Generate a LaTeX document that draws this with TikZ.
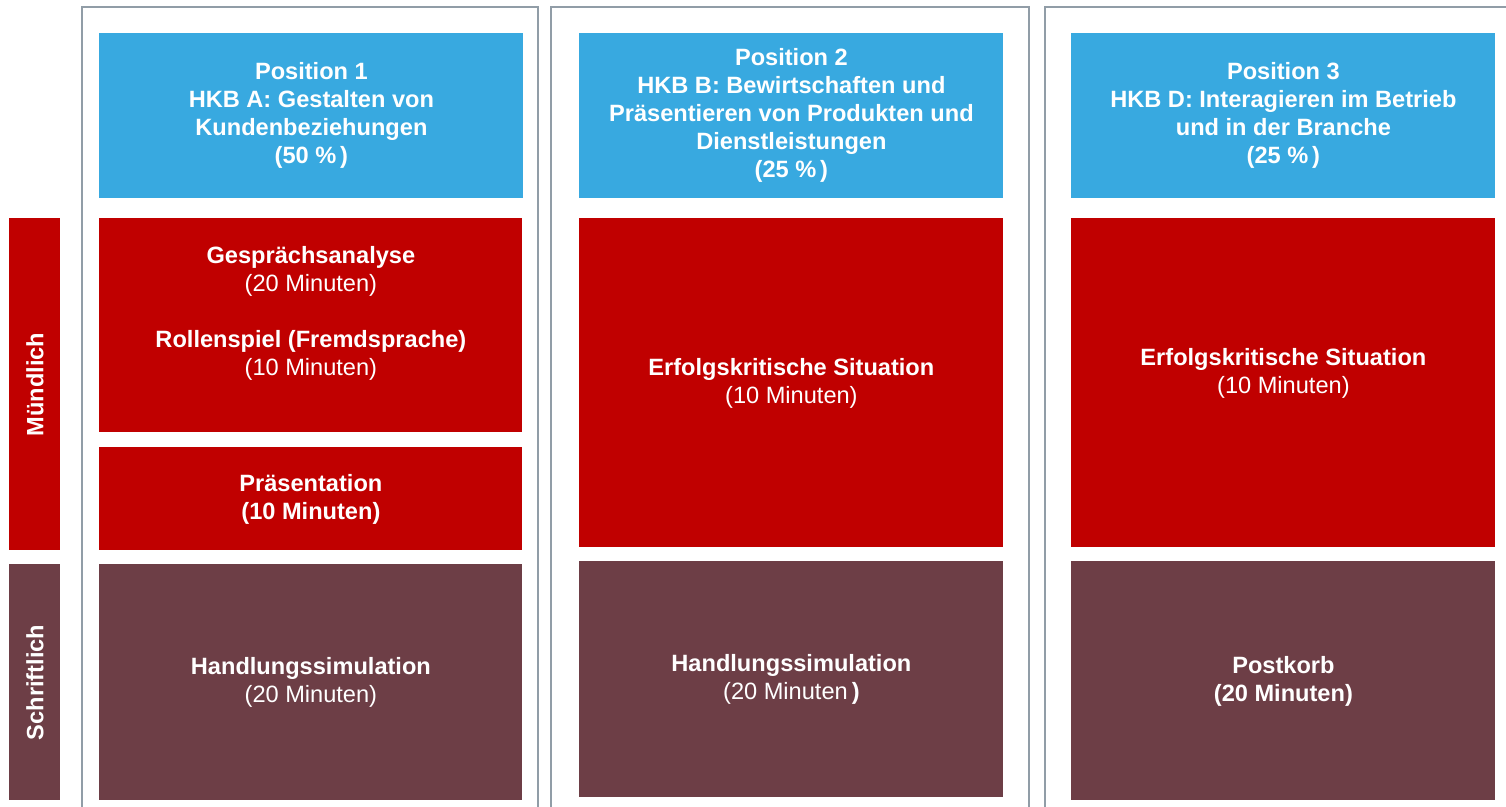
\documentclass[tikz,border=0pt]{standalone}
\usepackage{fontspec}
\setmainfont{Liberation Sans}
\definecolor{posblue}{RGB}{56,169,224}
\definecolor{oralred}{RGB}{192,0,0}
\definecolor{writbrown}{RGB}{109,62,70}
\definecolor{framegray}{RGB}{145,157,167}
\tikzset{
  cell/.style={anchor=north west, inner sep=0pt, align=center, text=white,
    font=\fontsize{11.8}{14}\selectfont},
  poscell/.style={cell, fill=posblue},
  oralcell/.style={cell, fill=oralred},
  writcell/.style={cell, fill=writbrown},
  sidetext/.style={rotate=90, text=white, font=\fontsize{11.8}{14}\selectfont\bfseries},
  colframe/.style={draw=framegray, line width=1pt}
}
\begin{document}
\begin{tikzpicture}[x=0.5pt,y=-0.5pt]
  \useasboundingbox (0,0) rectangle (1506,807);

  % Column frames (open at the bottom)
  \draw[colframe] (82,812) -- (82,7) -- (538,7) -- (538,812);
  \draw[colframe] (551,812) -- (551,7) -- (1029,7) -- (1029,812);
  \draw[colframe] (1045,812) -- (1045,7) -- (1512,7);

  % Row labels
  \node[oralcell, minimum width=25.5pt, minimum height=166pt] (oral) at (9,218) {};
  \node[sidetext] (oraltxt) at (oral.center) {Mündlich};
  \node[writcell, minimum width=25.5pt, minimum height=118pt] (writ) at (9,564) {};
  \node[sidetext] (writtxt) at (writ.center) {Schriftlich};

  % Position 1
  \node[poscell, minimum width=212pt, minimum height=82.5pt] (posA) at (99,33)
    {\textbf{Position 1}\\ \textbf{HKB A: Gestalten von}\\ \textbf{Kundenbeziehungen}\\ \textbf{(50 \%\,)}};
  \node[oralcell, minimum width=211.5pt, minimum height=107pt] (talkA) at (99,218)
    {\textbf{Gesprächsanalyse}\\ (20 Minuten)\\[14pt] \textbf{Rollenspiel (Fremdsprache)}\\ (10 Minuten)\\};
  \node[oralcell, minimum width=211.5pt, minimum height=51.5pt] (presA) at (99,447)
    {\textbf{Präsentation}\\ \textbf{(10 Minuten)}};
  \node[writcell, minimum width=211.5pt, minimum height=118pt] (simA) at (99,564)
    {\textbf{Handlungssimulation}\\ (20 Minuten)};

  % Position 2
  \node[poscell, minimum width=212pt, minimum height=82.5pt] (posB) at (579,33)
    {\textbf{Position 2}\\ \textbf{HKB B: Bewirtschaften und}\\ \textbf{Präsentieren von Produkten und}\\ \textbf{Dienstleistungen}\\ \textbf{(25 \%\,)}};
  \node[oralcell, minimum width=212pt, minimum height=164.5pt] (sitB) at (579,218)
    {\textbf{Erfolgskritische Situation}\\ (10 Minuten)};
  \node[writcell, minimum width=212pt, minimum height=118pt] (simB) at (579,561)
    {\textbf{Handlungssimulation}\\ (20 Minuten\,\textbf{)}};

  % Position 3
  \node[poscell, minimum width=212pt, minimum height=82.5pt] (posD) at (1071,33)
    {\textbf{Position 3}\\ \textbf{HKB D: Interagieren im Betrieb}\\ \textbf{und in der Branche}\\ \textbf{(25 \%\,)}};
  \node[oralcell, minimum width=212pt, minimum height=164.5pt] (sitD) at (1071,218)
    {\textbf{Erfolgskritische Situation}\\ (10 Minuten)\\[-2pt]};
  \node[writcell, minimum width=212pt, minimum height=119.5pt] (boxD) at (1071,561)
    {\textbf{Postkorb}\\ \textbf{(20 Minuten)}};
\end{tikzpicture}
\end{document}
